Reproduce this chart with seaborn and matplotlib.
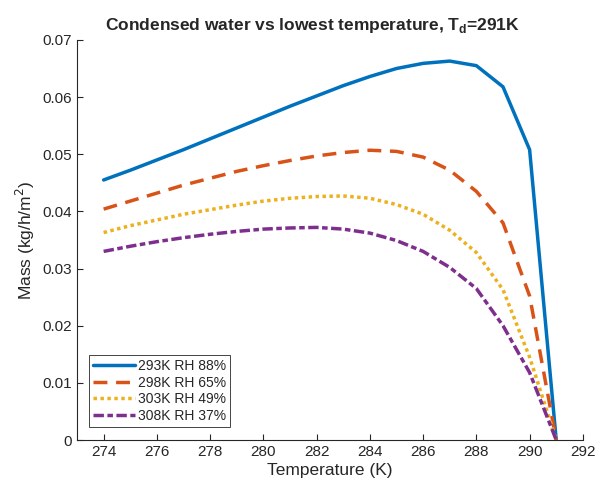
import numpy as np
import pandas as pd
import matplotlib
matplotlib.use("Agg")
import matplotlib.pyplot as plt
import seaborn as sns

temps = [274, 275, 276, 277, 278, 279, 280, 281, 282, 283, 284, 285, 286, 287, 288, 289, 290, 291]
m293 = [0.0455, 0.0472, 0.0490, 0.0508, 0.0527, 0.0546, 0.0565, 0.0584, 0.0602, 0.0620, 0.0636, 0.0650, 0.0659, 0.0663, 0.0655, 0.0618, 0.0508, 0.0]
m298 = [0.0404, 0.0418, 0.0432, 0.0446, 0.0458, 0.0470, 0.0480, 0.0489, 0.0497, 0.0503, 0.0507, 0.0505, 0.0495, 0.0472, 0.0435, 0.0380, 0.0252, 0.0]
m303 = [0.0363, 0.0375, 0.0385, 0.0395, 0.0403, 0.0411, 0.0418, 0.0423, 0.0426, 0.0427, 0.0423, 0.0412, 0.0395, 0.0367, 0.0328, 0.0263, 0.0145, 0.0]
m308 = [0.0330, 0.0339, 0.0347, 0.0354, 0.0360, 0.0365, 0.0369, 0.0371, 0.0372, 0.0369, 0.0362, 0.0349, 0.0330, 0.0302, 0.0265, 0.0200, 0.0118, 0.0]
labels = ["293K RH 88%", "298K RH 65%", "303K RH 49%", "308K RH 37%"]

df = pd.DataFrame({
    "T": temps * 4,
    "m": m293 + m298 + m303 + m308,
    "series": sum([[l] * len(temps) for l in labels], []),
})

sns.set_theme(style="ticks")
plt.rcParams['font.family'] = ['Liberation Sans', 'DejaVu Sans']

colors = ["#0072BD", "#D95319", "#EDB120", "#7E2F8E"]
dashes = {labels[0]: "", labels[1]: (4, 2.5), labels[2]: (1, 1), labels[3]: (3, 1, 1.6, 1)}

fig = plt.figure(figsize=(6.04, 4.87), dpi=100)
ax = fig.add_axes([0.1275, 0.0965, 0.8375, 0.8215])
sns.lineplot(data=df, x="T", y="m", hue="series", style="series", palette=colors,
             dashes=dashes, linewidth=2.5, ax=ax)

ax.set_xlim(273, 292)
ax.set_ylim(0, 0.07)
ax.set_xticks(np.arange(274, 293, 2))
ax.set_yticks(np.arange(0, 0.0701, 0.01))
ax.set_yticklabels(["0", "0.01", "0.02", "0.03", "0.04", "0.05", "0.06", "0.07"])
ax.tick_params(direction="in", length=4, width=0.8, colors="#262626", labelsize=11)
for s in ["top", "right"]:
    ax.spines[s].set_visible(False)
for s in ["left", "bottom"]:
    ax.spines[s].set_color("#262626")
    ax.spines[s].set_linewidth(0.8)
ax.set_xlabel("Temperature (K)", fontsize=12.5, color="#262626", labelpad=3)
ax.set_ylabel("Mass (kg/h/m$^2$)", fontsize=12.5, color="#262626", labelpad=4)
ax.set_title("Condensed water vs lowest temperature, T$_\\mathregular{d}$=291K",
             fontsize=12.5, fontweight="bold", pad=7, x=0.465)

leg = ax.legend(loc="lower left", bbox_to_anchor=(0.018, 0.025), fontsize=10,
                frameon=True, fancybox=False, edgecolor="#262626", framealpha=1,
                handlelength=3.0, handletextpad=0.25, borderpad=0.3, labelspacing=0.2,
                borderaxespad=0.2)
leg.get_frame().set_linewidth(0.6)
leg.set_title(None)

fig.savefig("out.png", dpi=100)
